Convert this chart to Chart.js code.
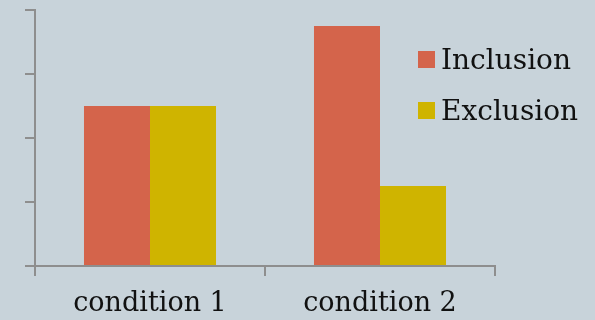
<!DOCTYPE html>
<html>
<head>
<meta charset="utf-8">
<script src="https://cdn.jsdelivr.net/npm/chart.js@4"></script>
<style>
  html, body { margin: 0; padding: 0; background: #c8d3da; }
  .wrap { position: relative; width: 595px; height: 320px; }
  #legend { position: absolute; left: 418px; top: 34px; font-family: "DejaVu Serif", serif; font-size: 28px; color: #111; }
  #legend .item { display: flex; align-items: center; height: 51px; }
  #legend .box { width: 17px; height: 17px; margin-right: 6px; }
</style>
</head>
<body>
<div class="wrap">
  <canvas id="barChart" width="595" height="320"></canvas>
  <div id="legend"></div>
</div>
<script>
const categories = ["condition 1", "condition 2"];
const inclusion = [2.5, 3.75];
const exclusion = [2.5, 1.25];
const seriesNames = ["Inclusion", "Exclusion"];
const seriesColors = ["#d4644b", "#cfb400"];

const axisColor = "#8e8e8e";

const chart = new Chart(document.getElementById("barChart"), {
  type: "bar",
  data: {
    labels: categories,
    datasets: [
      { label: seriesNames[0], data: inclusion, backgroundColor: seriesColors[0] },
      { label: seriesNames[1], data: exclusion, backgroundColor: seriesColors[1] },
    ],
  },
  options: {
    responsive: false,
    animation: false,
    layout: { padding: { top: 10, right: 100, left: 0, bottom: 0 } },
    plugins: { legend: { display: false }, tooltip: { enabled: false } },
    datasets: { bar: { categoryPercentage: 0.574, barPercentage: 1 } },
    scales: {
      x: {
        grid: { drawOnChartArea: false, color: axisColor, lineWidth: 2, tickLength: 10 },
        border: { color: axisColor, width: 2 },
        ticks: { color: "#111", padding: 12, font: { family: "DejaVu Serif", size: 27 } },
        afterFit: (scale) => { scale.height = 54; },
      },
      y: {
        min: 0,
        max: 4,
        grid: { drawOnChartArea: false, color: axisColor, lineWidth: 2, tickLength: 10 },
        border: { color: axisColor, width: 2 },
        ticks: { stepSize: 1, display: false },
        afterFit: (scale) => { scale.width = 35; },
      },
    },
  },
});

// legend built from the datasets
const legend = document.getElementById("legend");
chart.data.datasets.forEach((ds) => {
  const item = document.createElement("div");
  item.className = "item";
  const box = document.createElement("span");
  box.className = "box";
  box.style.background = ds.backgroundColor;
  const text = document.createElement("span");
  text.textContent = ds.label;
  item.appendChild(box);
  item.appendChild(text);
  legend.appendChild(item);
});
</script>
</body>
</html>
